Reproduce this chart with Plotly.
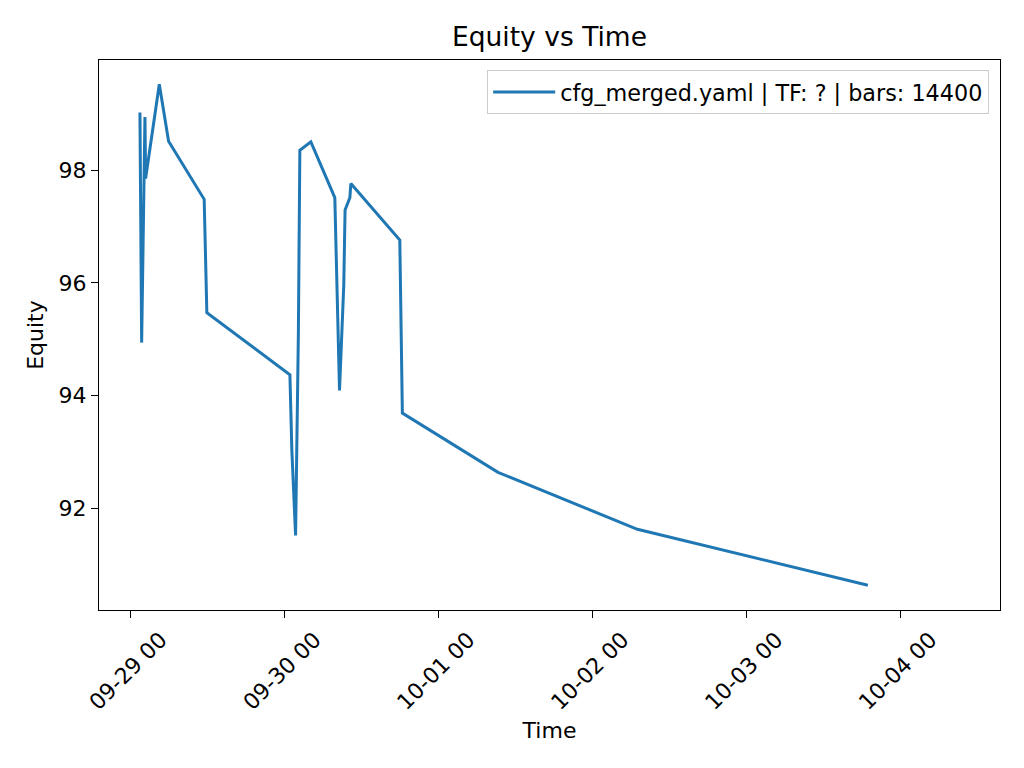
import plotly.graph_objects as go

times = [
    "2025-09-29 01:27", "2025-09-29 01:43", "2025-09-29 02:14", "2025-09-29 02:20",
    "2025-09-29 04:28", "2025-09-29 05:55", "2025-09-29 11:28", "2025-09-29 11:53",
    "2025-09-30 00:50", "2025-09-30 01:08", "2025-09-30 01:43", "2025-09-30 02:09",
    "2025-09-30 02:23", "2025-09-30 04:06", "2025-09-30 07:50", "2025-09-30 08:34",
    "2025-09-30 09:14", "2025-09-30 09:26", "2025-09-30 10:11", "2025-09-30 10:20",
    "2025-09-30 17:58", "2025-09-30 18:22", "2025-10-01 09:17", "2025-10-02 07:01",
    "2025-10-03 18:57",
]
equity = [
    99.02, 94.94, 98.94, 97.85,
    99.52, 98.51, 97.48, 95.47,
    94.37, 93.04, 91.52, 95.08,
    98.35, 98.50, 97.51, 94.09,
    95.96, 97.29, 97.51, 97.76,
    96.76, 93.69, 92.64, 91.63,
    90.64,
]
series_name = "cfg_merged.yaml | TF: ? | bars: 14400"
x_ticks = ["2025-09-29", "2025-09-30", "2025-10-01", "2025-10-02", "2025-10-03", "2025-10-04"]
y_ticks = [92, 94, 96, 98]

FONT = "DejaVu Sans"

fig = go.Figure()
fig.add_trace(go.Scatter(
    x=times, y=equity, mode="lines", name=series_name,
    line=dict(color="#1f77b4", width=3),
))

fig.update_layout(
    width=1024, height=768,
    paper_bgcolor="white", plot_bgcolor="white",
    margin=dict(l=91, r=32, t=52, b=166, autoexpand=False),
    font=dict(family=FONT, size=22, color="black"),
    title=dict(text="Equity vs Time", x=0.5, xref="paper", xanchor="center",
               y=1 - 29 / 768, yref="container", yanchor="middle",
               font=dict(family=FONT, size=26.5, color="black")),
    showlegend=True,
    legend=dict(x=0.988, y=0.982, xanchor="right", yanchor="top",
                bgcolor="white", bordercolor="#cccccc", borderwidth=1,
                itemwidth=62,
                font=dict(family=FONT, size=22.3, color="black")),
)

fig.update_xaxes(
    type="date",
    range=["2025-09-28 19:04", "2025-10-04 15:33"],
    tickvals=x_ticks, tickformat="%m-%d %H", tickangle=-45,
    ticklabelshift=30,
    ticks="outside", ticklen=7, tickwidth=1.3, tickcolor="black",
    showline=True, linecolor="black", linewidth=1.3, mirror=True,
    showgrid=False, zeroline=False,
    title=dict(text="Time", standoff=8, font=dict(family=FONT, size=22)),
    automargin=False,
)
fig.update_yaxes(
    range=[90.20, 99.95],
    tickvals=y_ticks,
    ticks="outside", ticklen=7, tickwidth=1.3, tickcolor="black",
    showline=True, linecolor="black", linewidth=1.3, mirror=True,
    showgrid=False, zeroline=False,
    title=dict(text="Equity", standoff=8, font=dict(family=FONT, size=22)),
    automargin=False,
)

fig.write_html("out.html")
